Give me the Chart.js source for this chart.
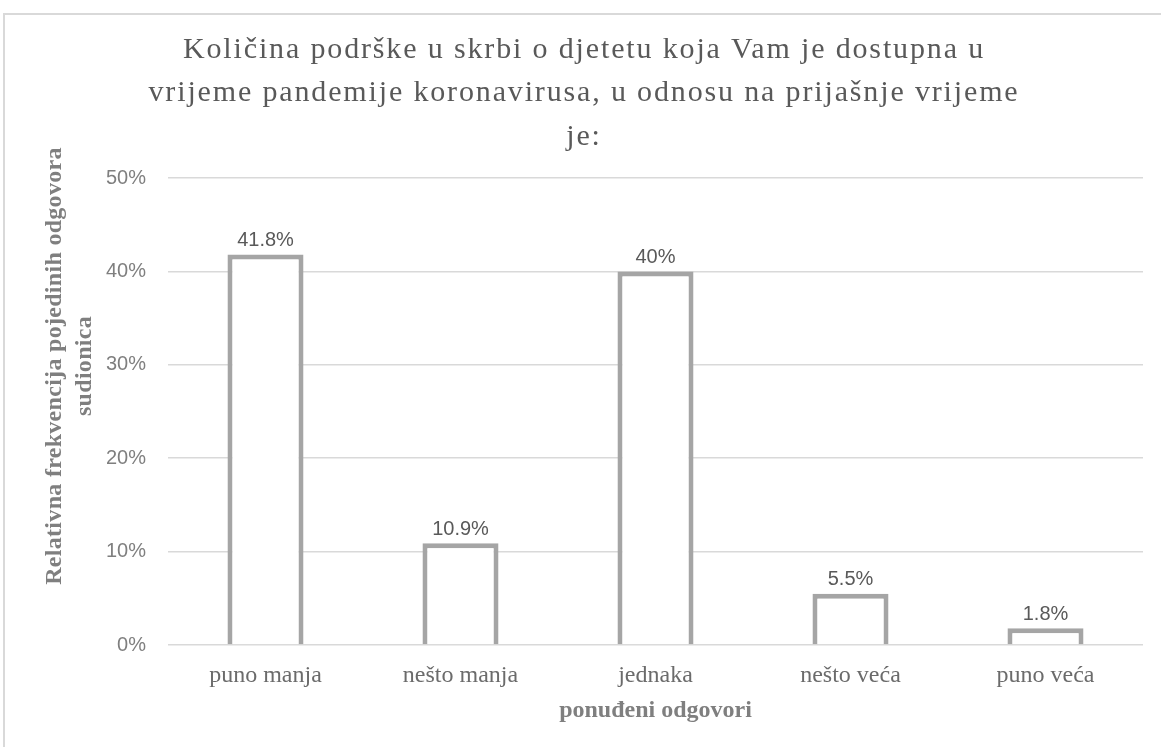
<!DOCTYPE html>
<html>
<head>
<meta charset="utf-8">
<script src="https://cdn.jsdelivr.net/npm/chart.js@4"></script>
<style>
  html, body { margin:0; padding:0; background:#fff; overflow:hidden; }
  #okvir { position:absolute; left:3px; top:13px; width:1170px; height:760px; border:2px solid #d9d9d9; }
  #wrap { position:absolute; left:0; top:0; width:1161px; height:747px; }
</style>
</head>
<body>
<div id="okvir"></div>
<div id="wrap"><canvas id="grafikon"></canvas></div>
<script>
/* ===============================
  Podaci
================================ */
const odgovori = ['puno manja', 'nešto manja', 'jednaka', 'nešto veća', 'puno veća'];
const postotci = [41.8, 10.9, 40, 5.5, 1.8];
const oznake = ['41.8%', '10.9%', '40%', '5.5%', '1.8%'];
const naslov = [
    'Količina podrške u skrbi o djetetu koja Vam je dostupna u',
    'vrijeme pandemije koronavirusa, u odnosu na prijašnje vrijeme',
    'je:'
];
const naslovY = ['Relativna frekvencija pojedinih odgovora', 'sudionica'];
const naslovX = 'ponuđeni odgovori';

const serif = '"Liberation Serif", "Times New Roman", serif';
const sans = '"Liberation Sans", Arial, sans-serif';

/* ================= oznake iznad stupaca ================= */
const oznakePlugin = {
    id:'oznake',
    afterDatasetsDraw(chart){
        const ctx = chart.ctx;
        const meta = chart.getDatasetMeta(0);
        ctx.save();
        ctx.font = '20px ' + sans;
        ctx.fillStyle = '#595959';
        ctx.textAlign = 'center';
        ctx.textBaseline = 'middle';
        meta.data.forEach((bar, i) => {
            ctx.fillText(oznake[i], bar.x, bar.y - 14);
        });
        ctx.restore();
    }
};

/* ================= naslov grafikona + naslov osi Y ================= */
const tekstPlugin = {
    id:'tekst',
    afterDraw(chart){
        const ctx = chart.ctx;
        ctx.save();
        ctx.font = '30px ' + serif;
        ctx.fillStyle = '#595959';
        ctx.textAlign = 'center';
        ctx.textBaseline = 'middle';
        ctx.letterSpacing = '1.85px';
        naslov.forEach((t, i) => ctx.fillText(t, 584, 50 + i * 43.5));
        ctx.restore();

        ctx.save();
        ctx.translate(55, 366);
        ctx.rotate(-Math.PI / 2);
        ctx.font = 'bold 24px ' + serif;
        ctx.fillStyle = '#7f7f7f';
        ctx.textAlign = 'center';
        ctx.textBaseline = 'middle';
        ctx.letterSpacing = '0.3px';
        naslovY.forEach((t, i) => ctx.fillText(t, 0, i * 30));
        ctx.restore();
    }
};

new Chart(document.getElementById('grafikon'),{
    type:'bar',
    data:{
        labels:odgovori,
        datasets:[{
            data:postotci,
            backgroundColor:'#ffffff',
            borderColor:'#a5a5a5',
            borderWidth:5,
            barPercentage:0.39,
            categoryPercentage:1
        }]
    },
    options:{
        responsive:true,
        maintainAspectRatio:false,
        animation:false,
        layout:{padding:{left:0, right:18, top:178, bottom:0}},
        plugins:{
            legend:{display:false},
            tooltip:{enabled:false}
        },
        scales:{
            x:{
                grid:{display:false},
                border:{display:false},
                ticks:{color:'#6b6b6b', padding:8, font:{family:serif, size:24}},
                title:{
                    display:true,
                    text:naslovX,
                    color:'#7f7f7f',
                    font:{family:serif, size:24, weight:'bold'},
                    padding:{top:0, bottom:22}
                },
                afterFit(s){ s.height = 102; }
            },
            y:{
                min:0,
                max:50,
                grid:{color:'#d9d9d9', lineWidth:1.5, drawTicks:false},
                border:{display:false},
                ticks:{
                    stepSize:10,
                    padding:22,
                    color:'#7f7f7f',
                    font:{family:sans, size:20},
                    callback:v => v + '%'
                },
                afterFit(s){ s.width = 168; }
            }
        }
    },
    plugins:[oznakePlugin, tekstPlugin]
});
</script>
</body>
</html>
